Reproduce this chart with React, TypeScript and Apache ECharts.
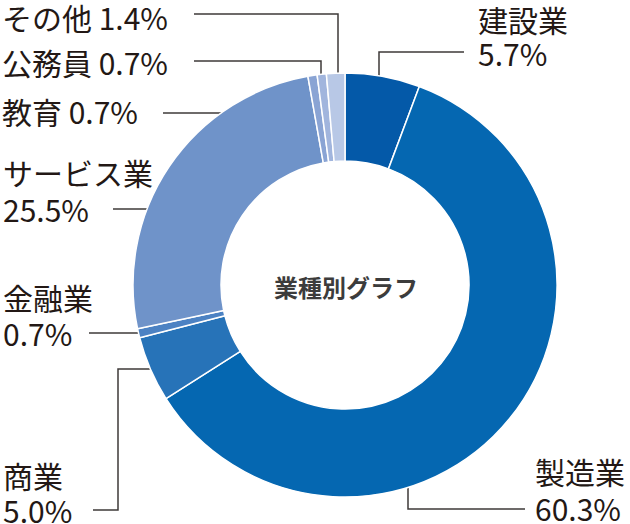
import React, { useEffect, useRef } from "react";
import * as echarts from "echarts";

const categories = ["建設業", "製造業", "商業", "金融業", "サービス業", "教育", "公務員", "その他"];
const shares = [5.7, 60.3, 5.0, 0.7, 25.5, 0.7, 0.7, 1.4];
const sliceColors = ["#0459a8", "#0567b1", "#2773b8", "#4c82c3", "#6f93c9", "#8aa4d4", "#a1b5dd", "#b8c8e6"];
const centerTitle = "業種別グラフ";

// annotation layout for each label (text anchor + leader line points)
const labelLayouts = [
  { x: 478, y: 35.7, lh: 34, pts: [[379, 91], [379, 52], [464, 52]] },
  { x: 535, y: 489.5, lh: 37, pts: [[408, 468], [408, 509], [525, 509]] },
  { x: 3, y: 492.5, lh: 34.5, pts: [[163, 369], [118, 369], [118, 510], [93, 510]] },
  { x: 3, y: 315, lh: 36, pts: [[146, 333], [89, 333]] },
  { x: 3, y: 190.5, lh: 37, pts: [[163, 209], [113, 209]] },
  { x: 2, y: 111, lh: 34, pts: [[317, 113], [163, 113]] },
  { x: 2, y: 62, lh: 34, pts: [[321, 84], [321, 61], [194, 61]] },
  { x: 2, y: 17, lh: 34, pts: [[338, 91], [338, 14], [194, 14]] },
];
const singleLine = [false, false, false, false, false, true, true, true];

const FONT = "'Noto Sans CJK JP', 'Noto Sans', sans-serif";

export default function App() {
  const ref = useRef<HTMLDivElement>(null);
  useEffect(() => {
    document.body.style.margin = "0";
    if (!ref.current) return;
    const chart = echarts.init(ref.current, undefined, { renderer: "svg" });
    const data = categories.map((name, i) => ({
      name,
      value: shares[i],
      itemStyle: { color: sliceColors[i] },
      label: { lineHeight: labelLayouts[i].lh },
    }));
    chart.setOption({
      animation: false,
      backgroundColor: "#ffffff",
      graphic: [
        {
          type: "text",
          x: 346,
          y: 286,
          style: {
            text: centerTitle,
            fontSize: 24,
            fontWeight: "bold",
            fontFamily: FONT,
            fill: "#3c3c3c",
            align: "center",
            verticalAlign: "middle",
          },
        },
      ],
      series: [
        {
          type: "pie",
          center: [345, 285],
          radius: [124, 212],
          startAngle: 90,
          clockwise: true,
          avoidLabelOverlap: false,
          data,
          itemStyle: { borderColor: "#ffffff", borderWidth: 1.5 },
          emphasis: { disabled: true },
          label: {
            show: true,
            position: "outside",
            fontFamily: FONT,
            fontSize: 30,
            color: "#231815",
            formatter: (p: any) =>
              singleLine[p.dataIndex]
                ? `${p.name} ${Number(p.value).toFixed(1)}%`
                : `${p.name}\n${Number(p.value).toFixed(1)}%`,
          },
          labelLine: {
            show: true,
            smooth: false,
            lineStyle: { color: "#3e3a39", width: 1.5 },
          },
          labelLayout: (params: any) => {
            const L = labelLayouts[params.dataIndex];
            return {
              x: L.x,
              y: L.y,
              align: "left",
              verticalAlign: "middle",
              labelLinePoints: L.pts,
            };
          },
        },
      ],
    });
    return () => chart.dispose();
  }, []);
  return <div ref={ref} style={{ width: 630, height: 524 }} />;
}
